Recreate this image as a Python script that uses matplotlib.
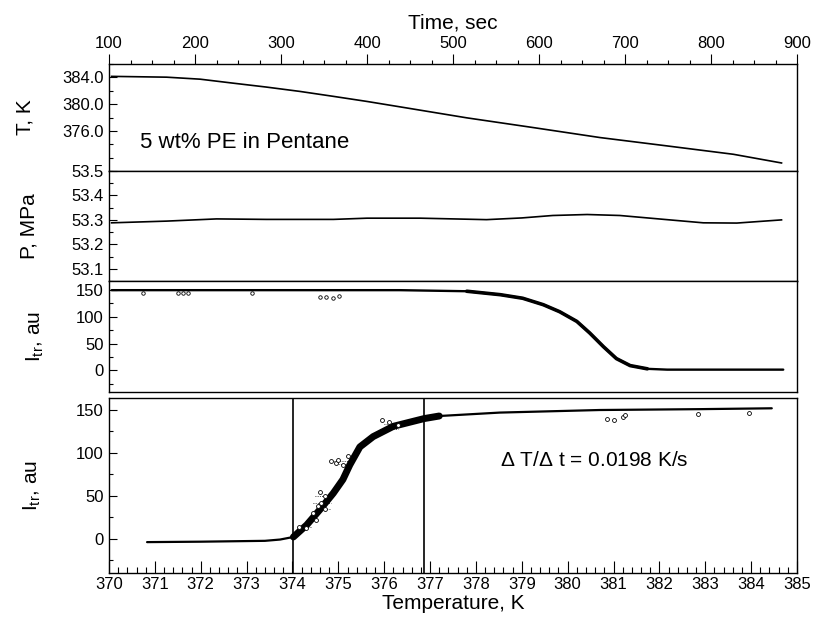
import numpy as np
import matplotlib
matplotlib.use('Agg')
import matplotlib.pyplot as plt
from matplotlib.ticker import MultipleLocator, FixedLocator, FormatStrFormatter

plt.rcParams['font.family'] = ['Liberation Sans', 'DejaVu Sans']
plt.rcParams['mathtext.fontset'] = 'custom'
plt.rcParams['mathtext.rm'] = 'Liberation Sans'
plt.rcParams['mathtext.it'] = 'Liberation Sans'

# Temperatura de la celda en funcion del tiempo
time_T = [103, 167, 206, 244, 283, 322, 361, 400, 438, 516, 593, 671, 749, 826, 882]
temp_T = [384.15, 384.03, 383.73, 383.14, 382.55, 381.9, 381.16, 380.4, 379.6,
          377.95, 376.5, 375.0, 373.75, 372.5, 371.2]

# Presion
time_P = [103, 167, 225, 283, 361, 400, 462, 539, 580, 616, 656, 694, 752, 791, 830, 882]
pres_P = [53.288, 53.295, 53.304, 53.302, 53.302, 53.307, 53.307, 53.301, 53.308,
          53.318, 53.322, 53.318, 53.300, 53.288, 53.287, 53.300]

# Intensidad transmitida vs tiempo
time_I = [103, 300, 438, 516, 555, 581, 605, 624, 644, 659, 675, 690, 706, 726, 749, 884]
int_I = [149, 149, 149, 147, 140.6, 134, 122, 109, 91, 69.5, 44, 22, 9, 3, 1.5, 1.5]
# puntos dispersos bajo la linea
time_I_pts = [140, 180, 186, 192, 266, 345, 352, 360, 368]
int_I_pts = [144, 143, 144, 143, 144, 136, 137, 135, 138]

# Intensidad transmitida vs temperatura
temp_B = [370.83, 372.0, 373.4, 373.73, 374.02, 374.31, 374.6, 374.89, 375.1, 375.25,
          375.47, 375.76, 376.2, 376.87, 377.2, 378.52, 380.7, 382.88, 384.45]
int_B = [-4, -3.5, -2.5, -1, 2, 16, 34, 53, 69, 86, 107, 119, 131, 140, 143, 147, 150, 151, 152]
temp_B_pts = [374.15, 374.3, 374.45, 374.52, 374.55, 374.6, 374.62, 374.7, 374.72,
              374.85, 374.95, 375.0, 375.1, 375.2, 375.95, 376.1, 376.3,
              380.85, 381.0, 381.2, 381.25, 382.85, 383.95]
int_B_pts = [14, 12, 30, 22, 38, 55, 42, 35, 50, 90, 88, 92, 86, 96, 138, 136, 133,
             140, 138, 142, 144, 145, 146]
# segmentos horizontales (T inicial, T final, I)
seg_T0 = [374.85, 374.95, 374.5, 374.45, 374.55, 374.15, 376.0, 375.9]
seg_T1 = [375.25, 375.25, 374.9, 374.85, 374.85, 374.4, 376.4, 376.3]
seg_I = [90, 87, 50, 42, 35, 14, 134, 128]
lineas_T = [374.02, 376.87]

fig = plt.figure(figsize=(8.14, 6.2), dpi=100)
L, W = 109 / 814, 688 / 814
ax1 = fig.add_axes([L, 1 - 171 / 620, W, 107 / 620])
ax2 = fig.add_axes([L, 1 - 281 / 620, W, 110 / 620])
ax3 = fig.add_axes([L, 1 - 392 / 620, W, 111 / 620])
ax4 = fig.add_axes([L, 1 - 573 / 620, W, 175 / 620])

for ax in (ax1, ax2, ax3, ax4):
    for s in ax.spines.values():
        s.set_linewidth(1.0)
    ax.tick_params(axis='y', which='major', direction='in', length=6, width=0.8,
                   labelsize=12, pad=4)
    ax.tick_params(axis='y', which='minor', direction='in', length=3, width=0.8)

# panel de temperatura con eje de tiempo arriba
ax1.plot(time_T, temp_T, color='black', lw=1.2)
ax1.set_xlim(100, 900)
ax1.set_ylim(370, 386)
ax1.xaxis.tick_top()
ax1.xaxis.set_label_position('top')
ax1.xaxis.set_major_locator(MultipleLocator(100))
ax1.xaxis.set_minor_locator(MultipleLocator(25))
ax1.tick_params(axis='x', which='major', direction='out', length=7, width=0.8,
                labelsize=12, pad=2.5)
ax1.tick_params(axis='x', which='minor', direction='out', length=3, width=0.8)
ax1.set_xlabel('Time, sec', fontsize=15, labelpad=5)
ax1.yaxis.set_major_locator(FixedLocator([376, 380, 384]))
ax1.yaxis.set_minor_locator(MultipleLocator(2))
ax1.yaxis.set_major_formatter(FormatStrFormatter('%.1f'))
ax1.set_ylabel('T, K', fontsize=15)
ax1.yaxis.set_label_coords(-0.108, 0.5)
ax1.text(0.045, 0.27, '5 wt% PE in Pentane', transform=ax1.transAxes,
         fontsize=16, ha='left', va='center')

# presion
ax2.plot(time_P, pres_P, color='black', lw=1.2)
ax2.set_xlim(100, 900)
ax2.set_ylim(53.05, 53.5)
ax2.set_xticks([])
ax2.yaxis.set_major_locator(FixedLocator([53.1, 53.2, 53.3, 53.4, 53.5]))
ax2.yaxis.set_minor_locator(MultipleLocator(0.05))
ax2.yaxis.set_major_formatter(FormatStrFormatter('%.1f'))
ax2.set_ylabel('P, MPa', fontsize=15)
ax2.yaxis.set_label_coords(-0.103, 0.5)

# intensidad vs tiempo
ax3.plot(time_I, int_I, color='black', lw=1.7, solid_capstyle='round')
ax3.plot(time_I[3:14], int_I[3:14], color='black', lw=2.6, solid_capstyle='round')
ax3.plot(time_I_pts, int_I_pts, 'o', ms=2.5, mfc='white', mec='black', mew=0.6)
ax3.set_xlim(100, 900)
ax3.set_ylim(-40, 166)
ax3.set_xticks([])
ax3.yaxis.set_major_locator(FixedLocator([0, 50, 100, 150]))
ax3.yaxis.set_minor_locator(MultipleLocator(25))
ax3.set_ylabel(r'I$_{\mathregular{tr}}$, au', fontsize=15)
ax3.yaxis.set_label_coords(-0.092, 0.5)

# intensidad vs temperatura
ax4.hlines(seg_I, seg_T0, seg_T1, color='black', lw=0.6, linestyles=':')
ax4.plot(temp_B, int_B, color='black', lw=1.6, solid_capstyle='round')
ax4.plot(temp_B[4:15], int_B[4:15], color='black', lw=5, solid_capstyle='round')
ax4.plot(temp_B_pts, int_B_pts, 'o', ms=2.8, mfc='white', mec='black', mew=0.6)
for t in lineas_T:
    ax4.axvline(t, color='black', lw=1.2)
ax4.set_xlim(370, 385)
ax4.set_ylim(-40, 164)
ax4.xaxis.set_major_locator(MultipleLocator(1))
ax4.xaxis.set_minor_locator(MultipleLocator(0.2))
ax4.tick_params(axis='x', which='major', direction='in', length=9, width=0.8,
                labelsize=12, pad=3)
ax4.tick_params(axis='x', which='minor', direction='in', length=4, width=0.8)
ax4.yaxis.set_major_locator(FixedLocator([0, 50, 100, 150]))
ax4.yaxis.set_minor_locator(MultipleLocator(25))
ax4.set_xlabel('Temperature, K', fontsize=15, labelpad=1)
ax4.set_ylabel(r'I$_{\mathregular{tr}}$, au', fontsize=15)
ax4.yaxis.set_label_coords(-0.096, 0.5)
ax4.text(0.568, 0.64, r'$\Delta$ T/$\Delta$ t = 0.0198 K/s', transform=ax4.transAxes,
         fontsize=15, ha='left', va='center')

fig.savefig('out.png', dpi=100)
